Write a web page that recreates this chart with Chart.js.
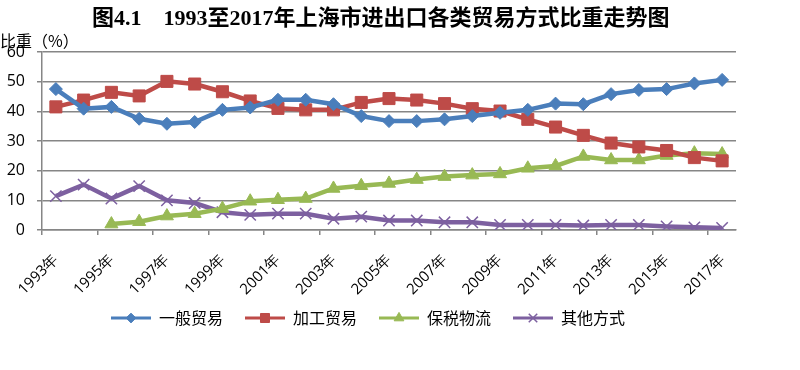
<!DOCTYPE html>
<html>
<head>
<meta charset="utf-8">
<script src="https://cdn.jsdelivr.net/npm/chart.js@4.4.1/dist/chart.umd.min.js"></script>
<style>
  body { margin: 0; background: #fff; }
  #wrap { width: 800px; height: 370px; }
</style>
</head>
<body>
<div id="wrap"><canvas id="myChart" width="800" height="370"></canvas></div>
<script>
const years = ['1993年', '1994年', '1995年', '1996年', '1997年', '1998年', '1999年', '2000年', '2001年',
    '2002年', '2003年', '2004年', '2005年', '2006年', '2007年', '2008年', '2009年', '2010年', '2011年',
    '2012年', '2013年', '2014年', '2015年', '2016年', '2017年'];

const general = [47.5, 40.9, 41.5, 37.5, 35.8, 36.4, 40.5, 41.3, 43.9, 43.9, 42.4, 38.4, 36.7,
    36.7, 37.3, 38.4, 39.5, 40.5, 42.6, 42.4, 45.8, 47.2, 47.5, 49.4, 50.6];
const processing = [41.5, 43.8, 46.4, 45.2, 50.1, 49.2, 46.6, 43.5, 41.0, 40.5, 40.5, 43.0, 44.3,
    43.8, 42.6, 40.9, 40.1, 37.3, 34.7, 31.9, 29.3, 28.0, 26.8, 24.4, 23.3];
const bonded = [null, null, 2.0, 2.8, 4.7, 5.5, 7.2, 9.7, 10.2, 10.6, 14.0, 14.9, 15.7,
    17.0, 18.0, 18.5, 18.9, 20.8, 21.6, 24.8, 23.6, 23.6, 25.1, 25.9, 25.6];
const others = [11.4, 15.3, 10.6, 14.8, 10.0, 9.1, 6.0, 5.1, 5.5, 5.5, 3.8, 4.5, 3.2,
    3.2, 2.6, 2.6, 1.7, 1.7, 1.7, 1.5, 1.7, 1.7, 1.2, 0.9, 0.7];

const seriesNames = ['一般贸易', '加工贸易', '保税物流', '其他方式'];
const seriesColors = ['#4A7EBB', '#BE4B48', '#98B954', '#7D60A0'];
const yTicks = [0, 10, 20, 30, 40, 50, 60];

const markers = [
    { pointStyle: 'rectRot', radius: 6.5, borderWidth: 1 },
    { pointStyle: 'rect', radius: 8.5, borderWidth: 1 },
    { pointStyle: 'triangle', radius: 7.5, borderWidth: 1 },
    { pointStyle: 'crossRot', radius: 8, borderWidth: 1.5 }
];

// little legend picture: line with the marker in the middle
function legendIcon(i) {
    const c = document.createElement('canvas');
    c.width = 40;
    c.height = 16;
    const g = c.getContext('2d');
    g.strokeStyle = seriesColors[i];
    g.lineWidth = 3;
    g.beginPath();
    g.moveTo(0, 8);
    g.lineTo(40, 8);
    g.stroke();
    g.fillStyle = seriesColors[i];
    g.lineWidth = markers[i].borderWidth;
    Chart.helpers.drawPoint(g, {
        pointStyle: markers[i].pointStyle,
        radius: markers[i].radius * 0.75,
        rotation: 0,
        borderWidth: markers[i].borderWidth
    }, 20, 8);
    return c;
}

const allData = [general, processing, bonded, others];
const datasets = allData.map((arr, i) => ({
    label: seriesNames[i],
    data: arr,
    borderColor: seriesColors[i],
    backgroundColor: seriesColors[i],
    borderWidth: 4.5,
    pointStyle: markers[i].pointStyle,
    pointRadius: markers[i].radius,
    pointBorderWidth: markers[i].borderWidth,
    pointBorderColor: seriesColors[i],
    pointBackgroundColor: seriesColors[i],
    tension: 0,
    spanGaps: false
}));

const titlePlugin = {
    id: 'titles',
    afterLayout(chart) {
        // let the rotated year labels run past the axis box without being clipped
        chart.scales.x.bottom = chart.scales.x.top + 80;
    },
    afterDraw(chart) {
        const ctx = chart.ctx;
        ctx.save();
        ctx.fillStyle = '#000';
        ctx.textBaseline = 'middle';
        ctx.textAlign = 'left';
        ctx.font = 'bold 22px "Liberation Serif", "Noto Sans CJK SC"';
        ctx.fillText('图4.1　1993至2017年上海市进出口各类贸易方式比重走势图', 92, 19);
        ctx.font = '16px "Noto Sans CJK SC"';
        ctx.fillText('比重（%）', 0, 41);
        ctx.restore();
    }
};

const ctx = document.getElementById('myChart').getContext('2d');
const myChart = new Chart(ctx, {
    type: 'line',
    data: { labels: years, datasets: datasets },
    options: {
        responsive: false,
        animation: false,
        layout: { padding: { top: 52, right: 64, left: 0, bottom: 34 } },
        plugins: {
            tooltip: { enabled: false },
            title: { display: false },
            legend: {
                position: 'bottom',
                labels: {
                    usePointStyle: true,
                    pointStyleWidth: 40,
                    padding: 22,
                    color: '#000',
                    font: { family: '"Noto Sans CJK SC"', size: 16 },
                    generateLabels: (chart) => chart.data.datasets.map((d, i) => ({
                        text: d.label,
                        pointStyle: legendIcon(i),
                        fillStyle: seriesColors[i],
                        strokeStyle: seriesColors[i],
                        lineWidth: 0,
                        fontColor: '#000',
                        datasetIndex: i,
                        hidden: false
                    }))
                }
            }
        },
        scales: {
            x: {
                offset: true,
                afterFit: (scale) => { scale.height = 58; },
                afterCalculateLabelRotation: (scale) => { scale.labelRotation = 45; },
                grid: {
                    offset: true,
                    drawOnChartArea: false,
                    tickLength: 5,
                    lineWidth: 1.5,
                    color: (c) => (c.index !== undefined && c.index % 2 === 0) ? '#868686' : 'rgba(0,0,0,0)'
                },
                border: { color: '#868686', width: 1.5 },
                ticks: {
                    autoSkip: false,
                    maxRotation: 45,
                    minRotation: 45,
                    padding: 16,
                    color: '#000',
                    font: { family: '"Open Sans"', size: 15 },
                    callback: function (val, idx) { return idx % 2 === 0 ? this.getLabelForValue(val) : ''; }
                }
            },
            y: {
                min: 0,
                max: 60,
                afterFit: (scale) => { scale.width = 42; },
                afterBuildTicks: (scale) => { scale.ticks = yTicks.map(v => ({ value: v })); },
                grid: { color: '#868686', lineWidth: 1.5, tickLength: 5 },
                border: { color: '#868686', width: 1.5 },
                ticks: {
                    padding: 12,
                    color: '#000',
                    font: { family: '"Open Sans"', size: 16 }
                }
            }
        }
    },
    plugins: [titlePlugin]
});
</script>
</body>
</html>
